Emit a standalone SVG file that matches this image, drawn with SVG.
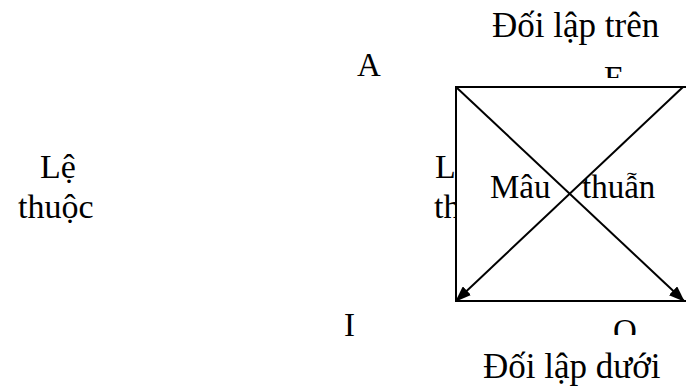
<svg xmlns="http://www.w3.org/2000/svg" width="686" height="388" viewBox="0 0 686 388">
  <style>
    text { font-family: "Liberation Serif", "Times New Roman", serif; font-size: 33px; fill: #000; }
    .big { font-size: 35px; }
    .mid { font-size: 34px; }
    .edge { stroke: #000; stroke-width: 2; fill: none; }
  </style>
  <defs>
    <marker id="arrow" markerUnits="userSpaceOnUse" markerWidth="16" markerHeight="12" refX="15" refY="6" orient="auto">
      <path d="M0,0 L16,6 L0,12 Z" fill="#000"/>
    </marker>
    <clipPath id="clipE"><rect x="0" y="0" width="686" height="78"/></clipPath>
    <clipPath id="clipO"><rect x="0" y="0" width="686" height="335"/></clipPath>
    <clipPath id="clipL"><rect x="0" y="0" width="456" height="388"/></clipPath>
  </defs>
  <rect width="686" height="388" fill="#fff"/>

  <g id="label-doi-lap-tren"><text class="big" x="492" y="37">Đối lập trên</text></g>
  <g id="label-A"><text x="357" y="76">A</text></g>
  <g id="label-E" clip-path="url(#clipE)"><text x="604" y="89">E</text></g>
  <g id="label-le-thuoc-1"><text class="mid" x="40" y="178">Lệ</text><text class="mid" x="18" y="218">thuộc</text></g>
  <g id="label-le-thuoc-2" clip-path="url(#clipL)"><text class="mid" x="435" y="178">L</text><text class="mid" x="434" y="218">th</text></g>

  <g id="square">
    <rect x="456" y="87" width="240" height="214" fill="#fff" stroke="#000" stroke-width="2"/>
  </g>

  <g id="connectors">
    <line class="edge" x1="456" y1="87" x2="684" y2="301" marker-end="url(#arrow)"/>
    <line class="edge" x1="683" y1="87" x2="456" y2="301" marker-end="url(#arrow)"/>
  </g>

  <g id="label-mau-thuan"><text x="490" y="198">Mâu</text><text x="582" y="198">thuẫn</text></g>
  <g id="label-I"><text x="344" y="336">I</text></g>
  <g id="label-O" clip-path="url(#clipO)"><text x="613" y="342">O</text></g>
  <g id="label-doi-lap-duoi"><text class="big" x="483" y="378">Đối lập dưới</text></g>
</svg>
